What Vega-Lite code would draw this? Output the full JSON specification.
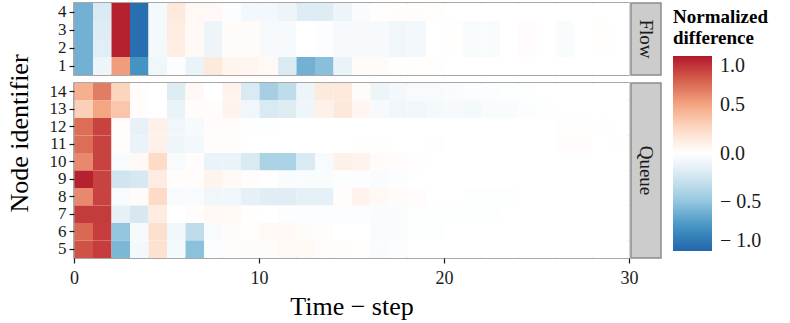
{
"$schema": "https://vega.github.io/schema/vega-lite/v6.json",
"padding": {"left": 5, "top": 1, "right": 2, "bottom": 2},
"background": "white",
"datasets": {"cells": [
{"n":4,"t":0,"v":-0.6},{"n":4,"t":1,"v":-0.2},{"n":4,"t":2,"v":0.97},{"n":4,"t":3,"v":-0.95},{"n":4,"t":4,"v":-0.06},{"n":4,"t":5,"v":0.15},{"n":4,"t":6,"v":0.05},{"n":4,"t":7,"v":0.05},{"n":4,"t":8,"v":-0.02},{"n":4,"t":9,"v":-0.07},{"n":4,"t":10,"v":-0.07},{"n":4,"t":11,"v":-0.1},{"n":4,"t":12,"v":-0.18},{"n":4,"t":13,"v":-0.18},{"n":4,"t":14,"v":-0.1},{"n":4,"t":15,"v":-0.03},{"n":4,"t":16,"v":0.01},{"n":4,"t":17,"v":0.02},{"n":4,"t":18,"v":0.02},{"n":4,"t":19,"v":0.01},{"n":4,"t":20,"v":0},{"n":4,"t":21,"v":0},{"n":4,"t":22,"v":0},{"n":4,"t":23,"v":0},{"n":4,"t":24,"v":0},{"n":4,"t":25,"v":0},{"n":4,"t":26,"v":0},{"n":4,"t":27,"v":0},{"n":4,"t":28,"v":0},{"n":4,"t":29,"v":0},
{"n":3,"t":0,"v":-0.6},{"n":3,"t":1,"v":-0.18},{"n":3,"t":2,"v":0.97},{"n":3,"t":3,"v":-0.95},{"n":3,"t":4,"v":-0.06},{"n":3,"t":5,"v":0.13},{"n":3,"t":6,"v":0.04},{"n":3,"t":7,"v":-0.1},{"n":3,"t":8,"v":0.03},{"n":3,"t":9,"v":0.03},{"n":3,"t":10,"v":-0.05},{"n":3,"t":11,"v":-0.05},{"n":3,"t":12,"v":0},{"n":3,"t":13,"v":-0.02},{"n":3,"t":14,"v":-0.05},{"n":3,"t":15,"v":-0.05},{"n":3,"t":16,"v":-0.05},{"n":3,"t":17,"v":-0.08},{"n":3,"t":18,"v":-0.07},{"n":3,"t":19,"v":0},{"n":3,"t":20,"v":0.01},{"n":3,"t":21,"v":-0.03},{"n":3,"t":22,"v":-0.03},{"n":3,"t":23,"v":0},{"n":3,"t":24,"v":0.02},{"n":3,"t":25,"v":0},{"n":3,"t":26,"v":-0.03},{"n":3,"t":27,"v":0},{"n":3,"t":28,"v":0.01},{"n":3,"t":29,"v":0},
{"n":2,"t":0,"v":-0.6},{"n":2,"t":1,"v":-0.16},{"n":2,"t":2,"v":0.97},{"n":2,"t":3,"v":-0.95},{"n":2,"t":4,"v":-0.06},{"n":2,"t":5,"v":0.12},{"n":2,"t":6,"v":0.04},{"n":2,"t":7,"v":-0.1},{"n":2,"t":8,"v":0.03},{"n":2,"t":9,"v":0.03},{"n":2,"t":10,"v":-0.05},{"n":2,"t":11,"v":-0.05},{"n":2,"t":12,"v":0},{"n":2,"t":13,"v":-0.02},{"n":2,"t":14,"v":-0.05},{"n":2,"t":15,"v":-0.05},{"n":2,"t":16,"v":-0.05},{"n":2,"t":17,"v":-0.08},{"n":2,"t":18,"v":-0.07},{"n":2,"t":19,"v":0},{"n":2,"t":20,"v":0.01},{"n":2,"t":21,"v":-0.03},{"n":2,"t":22,"v":-0.03},{"n":2,"t":23,"v":0},{"n":2,"t":24,"v":0.02},{"n":2,"t":25,"v":0},{"n":2,"t":26,"v":-0.03},{"n":2,"t":27,"v":0},{"n":2,"t":28,"v":0.01},{"n":2,"t":29,"v":0},
{"n":1,"t":0,"v":-0.6},{"n":1,"t":1,"v":-0.1},{"n":1,"t":2,"v":0.53},{"n":1,"t":3,"v":-0.75},{"n":1,"t":4,"v":-0.08},{"n":1,"t":5,"v":-0.02},{"n":1,"t":6,"v":-0.12},{"n":1,"t":7,"v":0.15},{"n":1,"t":8,"v":0.07},{"n":1,"t":9,"v":0.06},{"n":1,"t":10,"v":0.04},{"n":1,"t":11,"v":-0.2},{"n":1,"t":12,"v":-0.6},{"n":1,"t":13,"v":-0.53},{"n":1,"t":14,"v":-0.12},{"n":1,"t":15,"v":0.03},{"n":1,"t":16,"v":0.03},{"n":1,"t":17,"v":0.01},{"n":1,"t":18,"v":0.01},{"n":1,"t":19,"v":0.01},{"n":1,"t":20,"v":0},{"n":1,"t":21,"v":0},{"n":1,"t":22,"v":0},{"n":1,"t":23,"v":0},{"n":1,"t":24,"v":0},{"n":1,"t":25,"v":0},{"n":1,"t":26,"v":0},{"n":1,"t":27,"v":0},{"n":1,"t":28,"v":0},{"n":1,"t":29,"v":0},
{"n":14,"t":0,"v":0.45},{"n":14,"t":1,"v":0.65},{"n":14,"t":2,"v":0.28},{"n":14,"t":3,"v":0.02},{"n":14,"t":4,"v":0},{"n":14,"t":5,"v":-0.18},{"n":14,"t":6,"v":0.05},{"n":14,"t":7,"v":0},{"n":14,"t":8,"v":0.08},{"n":14,"t":9,"v":-0.2},{"n":14,"t":10,"v":-0.42},{"n":14,"t":11,"v":-0.32},{"n":14,"t":12,"v":-0.1},{"n":14,"t":13,"v":0.15},{"n":14,"t":14,"v":0.15},{"n":14,"t":15,"v":0.03},{"n":14,"t":16,"v":-0.1},{"n":14,"t":17,"v":-0.07},{"n":14,"t":18,"v":-0.04},{"n":14,"t":19,"v":-0.04},{"n":14,"t":20,"v":-0.03},{"n":14,"t":21,"v":-0.02},{"n":14,"t":22,"v":-0.02},{"n":14,"t":23,"v":-0.01},{"n":14,"t":24,"v":-0.01},{"n":14,"t":25,"v":0},{"n":14,"t":26,"v":0},{"n":14,"t":27,"v":0},{"n":14,"t":28,"v":0},{"n":14,"t":29,"v":0},
{"n":13,"t":0,"v":0.3},{"n":13,"t":1,"v":0.5},{"n":13,"t":2,"v":0.35},{"n":13,"t":3,"v":0.02},{"n":13,"t":4,"v":0},{"n":13,"t":5,"v":-0.12},{"n":13,"t":6,"v":0.02},{"n":13,"t":7,"v":0.02},{"n":13,"t":8,"v":0.08},{"n":13,"t":9,"v":-0.08},{"n":13,"t":10,"v":-0.2},{"n":13,"t":11,"v":-0.18},{"n":13,"t":12,"v":-0.09},{"n":13,"t":13,"v":0.1},{"n":13,"t":14,"v":0.16},{"n":13,"t":15,"v":0.06},{"n":13,"t":16,"v":-0.05},{"n":13,"t":17,"v":-0.08},{"n":13,"t":18,"v":-0.08},{"n":13,"t":19,"v":-0.06},{"n":13,"t":20,"v":-0.05},{"n":13,"t":21,"v":-0.06},{"n":13,"t":22,"v":-0.03},{"n":13,"t":23,"v":-0.03},{"n":13,"t":24,"v":-0.02},{"n":13,"t":25,"v":-0.01},{"n":13,"t":26,"v":0},{"n":13,"t":27,"v":0},{"n":13,"t":28,"v":0},{"n":13,"t":29,"v":0},
{"n":12,"t":0,"v":0.7},{"n":12,"t":1,"v":0.85},{"n":12,"t":2,"v":0.02},{"n":12,"t":3,"v":-0.13},{"n":12,"t":4,"v":0.1},{"n":12,"t":5,"v":-0.08},{"n":12,"t":6,"v":-0.05},{"n":12,"t":7,"v":0.02},{"n":12,"t":8,"v":0.02},{"n":12,"t":9,"v":-0.01},{"n":12,"t":10,"v":-0.01},{"n":12,"t":11,"v":0},{"n":12,"t":12,"v":0},{"n":12,"t":13,"v":0},{"n":12,"t":14,"v":0},{"n":12,"t":15,"v":0},{"n":12,"t":16,"v":0},{"n":12,"t":17,"v":0},{"n":12,"t":18,"v":0},{"n":12,"t":19,"v":0},{"n":12,"t":20,"v":0},{"n":12,"t":21,"v":0},{"n":12,"t":22,"v":0},{"n":12,"t":23,"v":0},{"n":12,"t":24,"v":0},{"n":12,"t":25,"v":0},{"n":12,"t":26,"v":0.01},{"n":12,"t":27,"v":0.01},{"n":12,"t":28,"v":0.01},{"n":12,"t":29,"v":0},
{"n":11,"t":0,"v":0.7},{"n":11,"t":1,"v":0.85},{"n":11,"t":2,"v":0.02},{"n":11,"t":3,"v":-0.12},{"n":11,"t":4,"v":0.1},{"n":11,"t":5,"v":-0.09},{"n":11,"t":6,"v":-0.07},{"n":11,"t":7,"v":0.02},{"n":11,"t":8,"v":0.02},{"n":11,"t":9,"v":0},{"n":11,"t":10,"v":0},{"n":11,"t":11,"v":0},{"n":11,"t":12,"v":0},{"n":11,"t":13,"v":0},{"n":11,"t":14,"v":0},{"n":11,"t":15,"v":0.01},{"n":11,"t":16,"v":0.01},{"n":11,"t":17,"v":0},{"n":11,"t":18,"v":0},{"n":11,"t":19,"v":-0.01},{"n":11,"t":20,"v":0},{"n":11,"t":21,"v":0},{"n":11,"t":22,"v":0},{"n":11,"t":23,"v":0},{"n":11,"t":24,"v":0},{"n":11,"t":25,"v":0},{"n":11,"t":26,"v":0.02},{"n":11,"t":27,"v":0.02},{"n":11,"t":28,"v":0},{"n":11,"t":29,"v":0.01},
{"n":10,"t":0,"v":0.6},{"n":10,"t":1,"v":0.85},{"n":10,"t":2,"v":-0.04},{"n":10,"t":3,"v":0.05},{"n":10,"t":4,"v":0.25},{"n":10,"t":5,"v":-0.04},{"n":10,"t":6,"v":0.02},{"n":10,"t":7,"v":-0.12},{"n":10,"t":8,"v":-0.12},{"n":10,"t":9,"v":-0.2},{"n":10,"t":10,"v":-0.4},{"n":10,"t":11,"v":-0.4},{"n":10,"t":12,"v":-0.2},{"n":10,"t":13,"v":-0.04},{"n":10,"t":14,"v":0.1},{"n":10,"t":15,"v":0.08},{"n":10,"t":16,"v":0.03},{"n":10,"t":17,"v":0.02},{"n":10,"t":18,"v":0.01},{"n":10,"t":19,"v":0},{"n":10,"t":20,"v":0},{"n":10,"t":21,"v":0},{"n":10,"t":22,"v":0},{"n":10,"t":23,"v":0},{"n":10,"t":24,"v":0},{"n":10,"t":25,"v":0},{"n":10,"t":26,"v":0},{"n":10,"t":27,"v":0},{"n":10,"t":28,"v":0},{"n":10,"t":29,"v":0},
{"n":9,"t":0,"v":0.97},{"n":9,"t":1,"v":0.85},{"n":9,"t":2,"v":-0.25},{"n":9,"t":3,"v":-0.22},{"n":9,"t":4,"v":0.13},{"n":9,"t":5,"v":0.02},{"n":9,"t":6,"v":0.02},{"n":9,"t":7,"v":0.08},{"n":9,"t":8,"v":0.04},{"n":9,"t":9,"v":0.02},{"n":9,"t":10,"v":0},{"n":9,"t":11,"v":-0.03},{"n":9,"t":12,"v":-0.03},{"n":9,"t":13,"v":-0.03},{"n":9,"t":14,"v":-0.02},{"n":9,"t":15,"v":-0.02},{"n":9,"t":16,"v":-0.03},{"n":9,"t":17,"v":-0.02},{"n":9,"t":18,"v":0},{"n":9,"t":19,"v":0},{"n":9,"t":20,"v":0},{"n":9,"t":21,"v":0},{"n":9,"t":22,"v":0},{"n":9,"t":23,"v":0},{"n":9,"t":24,"v":0},{"n":9,"t":25,"v":0},{"n":9,"t":26,"v":0},{"n":9,"t":27,"v":0},{"n":9,"t":28,"v":0},{"n":9,"t":29,"v":0},
{"n":8,"t":0,"v":0.6},{"n":8,"t":1,"v":0.85},{"n":8,"t":2,"v":-0.04},{"n":8,"t":3,"v":0.03},{"n":8,"t":4,"v":0.25},{"n":8,"t":5,"v":-0.04},{"n":8,"t":6,"v":-0.04},{"n":8,"t":7,"v":-0.08},{"n":8,"t":8,"v":-0.08},{"n":8,"t":9,"v":-0.14},{"n":8,"t":10,"v":-0.17},{"n":8,"t":11,"v":-0.17},{"n":8,"t":12,"v":-0.14},{"n":8,"t":13,"v":-0.14},{"n":8,"t":14,"v":0.02},{"n":8,"t":15,"v":0.08},{"n":8,"t":16,"v":0.04},{"n":8,"t":17,"v":0.03},{"n":8,"t":18,"v":0.02},{"n":8,"t":19,"v":0},{"n":8,"t":20,"v":0},{"n":8,"t":21,"v":-0.01},{"n":8,"t":22,"v":-0.01},{"n":8,"t":23,"v":-0.01},{"n":8,"t":24,"v":0},{"n":8,"t":25,"v":0},{"n":8,"t":26,"v":0},{"n":8,"t":27,"v":0},{"n":8,"t":28,"v":0},{"n":8,"t":29,"v":0},
{"n":7,"t":0,"v":0.88},{"n":7,"t":1,"v":0.88},{"n":7,"t":2,"v":-0.14},{"n":7,"t":3,"v":-0.22},{"n":7,"t":4,"v":0.13},{"n":7,"t":5,"v":0},{"n":7,"t":6,"v":0.02},{"n":7,"t":7,"v":0.05},{"n":7,"t":8,"v":0.04},{"n":7,"t":9,"v":0.01},{"n":7,"t":10,"v":0},{"n":7,"t":11,"v":-0.02},{"n":7,"t":12,"v":-0.02},{"n":7,"t":13,"v":-0.02},{"n":7,"t":14,"v":-0.02},{"n":7,"t":15,"v":-0.02},{"n":7,"t":16,"v":-0.03},{"n":7,"t":17,"v":-0.03},{"n":7,"t":18,"v":-0.01},{"n":7,"t":19,"v":-0.01},{"n":7,"t":20,"v":-0.01},{"n":7,"t":21,"v":-0.01},{"n":7,"t":22,"v":-0.01},{"n":7,"t":23,"v":0},{"n":7,"t":24,"v":0},{"n":7,"t":25,"v":0},{"n":7,"t":26,"v":0},{"n":7,"t":27,"v":0},{"n":7,"t":28,"v":0},{"n":7,"t":29,"v":0},
{"n":6,"t":0,"v":0.72},{"n":6,"t":1,"v":0.87},{"n":6,"t":2,"v":-0.5},{"n":6,"t":3,"v":-0.05},{"n":6,"t":4,"v":0.22},{"n":6,"t":5,"v":-0.08},{"n":6,"t":6,"v":-0.32},{"n":6,"t":7,"v":-0.04},{"n":6,"t":8,"v":0.03},{"n":6,"t":9,"v":0.01},{"n":6,"t":10,"v":0.04},{"n":6,"t":11,"v":0.05},{"n":6,"t":12,"v":0.03},{"n":6,"t":13,"v":0.02},{"n":6,"t":14,"v":0},{"n":6,"t":15,"v":0},{"n":6,"t":16,"v":-0.03},{"n":6,"t":17,"v":-0.03},{"n":6,"t":18,"v":-0.01},{"n":6,"t":19,"v":-0.01},{"n":6,"t":20,"v":0},{"n":6,"t":21,"v":0},{"n":6,"t":22,"v":0},{"n":6,"t":23,"v":0},{"n":6,"t":24,"v":0},{"n":6,"t":25,"v":0},{"n":6,"t":26,"v":0},{"n":6,"t":27,"v":0},{"n":6,"t":28,"v":0},{"n":6,"t":29,"v":0},
{"n":5,"t":0,"v":0.8},{"n":5,"t":1,"v":0.87},{"n":5,"t":2,"v":-0.57},{"n":5,"t":3,"v":-0.07},{"n":5,"t":4,"v":0.2},{"n":5,"t":5,"v":-0.06},{"n":5,"t":6,"v":-0.52},{"n":5,"t":7,"v":-0.02},{"n":5,"t":8,"v":0.02},{"n":5,"t":9,"v":0.03},{"n":5,"t":10,"v":0.03},{"n":5,"t":11,"v":0.04},{"n":5,"t":12,"v":0.04},{"n":5,"t":13,"v":0.02},{"n":5,"t":14,"v":0.02},{"n":5,"t":15,"v":0.01},{"n":5,"t":16,"v":-0.03},{"n":5,"t":17,"v":-0.02},{"n":5,"t":18,"v":0},{"n":5,"t":19,"v":0},{"n":5,"t":20,"v":0},{"n":5,"t":21,"v":0},{"n":5,"t":22,"v":0},{"n":5,"t":23,"v":0},{"n":5,"t":24,"v":0},{"n":5,"t":25,"v":0},{"n":5,"t":26,"v":0},{"n":5,"t":27,"v":0},{"n":5,"t":28,"v":0},{"n":5,"t":29,"v":0}
]},
"config": {
  "font": "Liberation Serif",
  "view": {"stroke": "#8c8c8c", "strokeWidth": 1.5},
  "axis": {"labelFont": "Liberation Serif", "labelFontSize": 17, "labelColor": "#1a1a1a", "tickColor": "#1a1a1a", "tickSize": 5, "tickWidth": 1.2, "domain": false, "grid": false, "labelPadding": 3, "titleFont": "Liberation Serif", "titleFontWeight": "normal", "titleFontSize": 26, "titleColor": "#000000"},
  "legend": {"titleFont": "Liberation Serif", "labelFont": "Liberation Serif"},
  "style": {"guide-title": {"font": "Liberation Serif"}, "guide-label": {"font": "Liberation Serif"}}
},
"concat": [
  {
    "width": 555, "height": 72,
    "data": {"name": "cells"},
    "transform": [{"filter": "datum.n <= 4"}],
    "mark": {"type": "rect"},
    "encoding": {
      "x": {"field": "t", "type": "quantitative", "bin": {"binned": true, "step": 1}, "scale": {"domain": [0, 30], "nice": false, "zero": false}, "axis": null},
      "y": {"field": "n", "type": "ordinal", "sort": "descending", "axis": {"title": null, "labelAngle": 0}},
      "color": {"field": "v", "type": "quantitative",
        "scale": {"domain": [-1, -0.75, -0.5, -0.25, 0, 0.25, 0.5, 0.75, 1], "range": ["#2166ac", "#4393c3", "#92c5de", "#d1e5f0", "#ffffff", "#fddbc7", "#f4a582", "#d6604d", "#b2182b"], "interpolate": "rgb"},
        "legend": {"title": ["Normalized", "difference"], "titleFont": "Liberation Serif", "titleFontSize": 19, "titleFontWeight": "bold", "titleColor": "#000000", "titlePadding": 8, "titleLineHeight": 21,
          "gradientLength": 195, "gradientThickness": 39, "gradientStrokeWidth": 0, "values": [-1, -0.5, 0, 0.5, 1],
          "labelExpr": "datum.value < 0 ? '\u2212 ' + format(-datum.value, '.1f') : format(datum.value, '.1f')",
          "labelFont": "Liberation Serif", "labelFontSize": 20, "labelColor": "#1a1a1a", "labelOffset": 8, "offset": 6, "padding": 5}}
    }
  },
  {
    "width": 30, "height": 72,
    "data": {"values": [{"panel": "Flow", "px": 0.5, "py": 0.5}]},
    "view": {"fill": "#cccccc", "stroke": "#8c8c8c"},
    "mark": {"type": "text", "angle": 90, "font": "Liberation Serif", "fontSize": 19, "color": "#1a1a1a", "align": "center", "baseline": "middle"},
    "encoding": {
      "x": {"field": "px", "type": "quantitative", "scale": {"domain": [0, 1]}, "axis": null},
      "y": {"field": "py", "type": "quantitative", "scale": {"domain": [0, 1]}, "axis": null},
      "text": {"field": "panel"}
    }
  },
  {
    "width": 555, "height": 175,
    "data": {"name": "cells"},
    "transform": [{"filter": "datum.n >= 5"}],
    "mark": {"type": "rect"},
    "encoding": {
      "x": {"field": "t", "type": "quantitative", "bin": {"binned": true, "step": 1}, "scale": {"domain": [0, 30], "nice": false, "zero": false},
        "axis": {"title": "Time \u2212 step", "values": [0, 10, 20, 30], "labelAngle": 0, "labelPadding": 6, "labelFontSize": 18, "titlePadding": 6, "labelFlush": false, "format": "d"}},
      "y": {"field": "n", "type": "ordinal", "sort": "descending", "axis": {"title": "Node identifier", "labelAngle": 0, "titleY": 50, "titlePadding": 17}},
      "color": {"field": "v", "type": "quantitative"}
    }
  },
  {
    "width": 30, "height": 175,
    "data": {"values": [{"panel": "Queue", "px": 0.5, "py": 0.5}]},
    "view": {"fill": "#cccccc", "stroke": "#8c8c8c"},
    "mark": {"type": "text", "angle": 90, "font": "Liberation Serif", "fontSize": 19, "color": "#1a1a1a", "align": "center", "baseline": "middle"},
    "encoding": {
      "x": {"field": "px", "type": "quantitative", "scale": {"domain": [0, 1]}, "axis": null},
      "y": {"field": "py", "type": "quantitative", "scale": {"domain": [0, 1]}, "axis": null},
      "text": {"field": "panel"}
    }
  }
],
"columns": 2,
"align": "each",
"bounds": "flush",
"spacing": {"row": 8, "column": 2},
"resolve": {"scale": {"color": "shared"}}
}
